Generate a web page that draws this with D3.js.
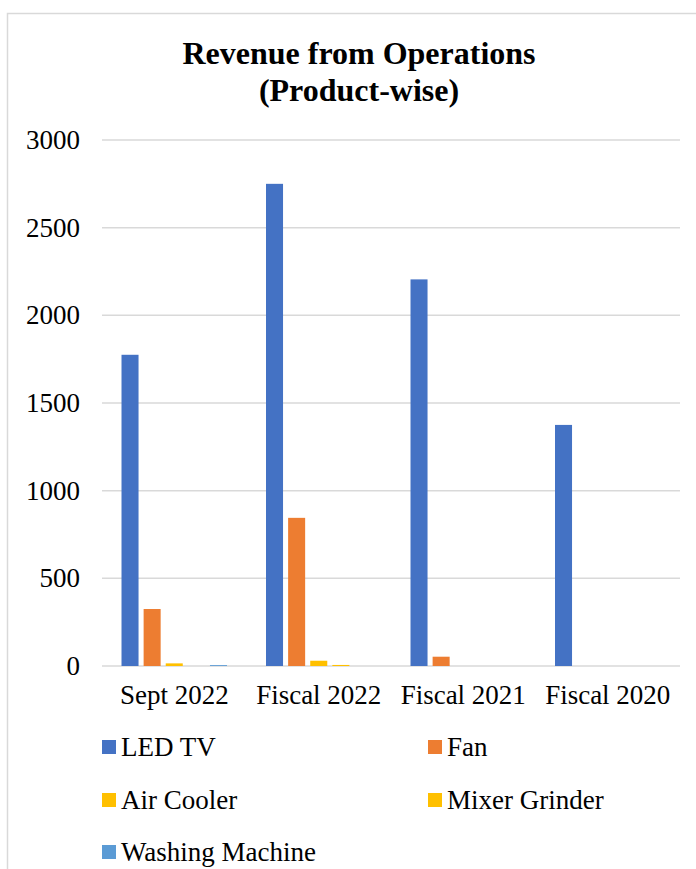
<!DOCTYPE html>
<html>
<head>
<meta charset="utf-8">
<script src="https://cdn.jsdelivr.net/npm/d3@7"></script>
<style>
  body { margin: 0; background: #fff; }
  text { font-family: "Liberation Serif", "Times New Roman", serif; fill: #000; }
</style>
</head>
<body>
<script>
const width = 696;
const height = 869;

const categories = ["Sept 2022", "Fiscal 2022", "Fiscal 2021", "Fiscal 2020"];
const seriesNames = ["LED TV", "Fan", "Air Cooler", "Mixer Grinder", "Washing Machine"];
const ledTv = [1775, 2750, 2205, 1375];
const fan = [325, 845, 53, 0];
const airCooler = [15, 30, 0, 0];
const mixerGrinder = [0, 6, 0, 0];
const washingMachine = [5, 0, 0, 0];
const yTicks = [0, 500, 1000, 1500, 2000, 2500, 3000];
const colors = ["#4472C4", "#ED7D31", "#FFC000", "#FFC000", "#5B9BD5"];

const seriesValues = [ledTv, fan, airCooler, mixerGrinder, washingMachine];
const serif = "'Liberation Serif', 'Times New Roman', serif";

const svg = d3.select("body")
  .append("svg")
  .attr("width", width)
  .attr("height", height);

svg.append("rect")
  .attr("width", width)
  .attr("height", height)
  .attr("fill", "#fff");

// chart border (runs off right/bottom)
svg.append("rect")
  .attr("x", 7.5)
  .attr("y", 13.5)
  .attr("width", 720)
  .attr("height", 900)
  .attr("fill", "none")
  .attr("stroke", "#d9d9d9")
  .attr("stroke-width", 1.5);

// title
const title = svg.append("text")
  .attr("text-anchor", "middle")
  .attr("font-family", serif)
  .attr("font-weight", "bold")
  .attr("font-size", 32);
title.append("tspan").attr("x", 359).attr("y", 64).text("Revenue from Operations");
title.append("tspan").attr("x", 359).attr("y", 101).text("(Product-wise)");

const margin = { left: 102, right: 680, top: 140, bottom: 666 };

const x0 = d3.scaleBand()
  .domain(categories)
  .range([margin.left, margin.right])
  .paddingInner(0.27)
  .paddingOuter(0.135);

const x1 = d3.scaleBand()
  .domain(seriesNames)
  .range([0, x0.bandwidth()])
  .paddingInner(0.23);

const y = d3.scaleLinear()
  .domain([0, 3000])
  .range([margin.bottom, margin.top]);

// gridlines
svg.append("g")
  .selectAll("line")
  .data(yTicks)
  .join("line")
  .attr("x1", margin.left)
  .attr("x2", margin.right)
  .attr("y1", (d) => y(d))
  .attr("y2", (d) => y(d))
  .attr("stroke", "#d9d9d9")
  .attr("stroke-width", 1.5);

// y axis labels
const yAxis = svg.append("g")
  .attr("transform", `translate(${margin.left - 22},0)`)
  .call(d3.axisLeft(y).tickValues(yTicks).tickFormat(d3.format("d")).tickSize(0).tickPadding(0))
  .attr("font-family", serif)
  .attr("font-size", 27);
yAxis.select(".domain").remove();

// bars
const groups = svg.append("g")
  .selectAll("g")
  .data(categories)
  .join("g")
  .attr("transform", (d) => `translate(${x0(d)},0)`);

groups.selectAll("rect")
  .data((c, i) => seriesNames.map((s, j) => ({ s, j, v: seriesValues[j][i] })))
  .join("rect")
  .attr("x", (d) => x1(d.s))
  .attr("width", x1.bandwidth())
  .attr("y", (d) => y(d.v))
  .attr("height", (d) => y(0) - y(d.v))
  .attr("fill", (d) => colors[d.j]);

// x axis labels
const xAxis = svg.append("g")
  .attr("transform", `translate(0,${margin.bottom + 14})`)
  .call(d3.axisBottom(x0).tickSize(0).tickPadding(0))
  .attr("font-family", serif)
  .attr("font-size", 27);
xAxis.select(".domain").remove();
xAxis.selectAll("text").attr("dy", "0.9em");

// legend
const legendPos = [
  [102, 747], [428, 747],
  [102, 800], [428, 800],
  [102, 852]
];

const legend = svg.append("g")
  .selectAll("g")
  .data(seriesNames)
  .join("g")
  .attr("transform", (d, i) => `translate(${legendPos[i][0]},${legendPos[i][1]})`);

legend.append("rect")
  .attr("x", 0)
  .attr("y", -7)
  .attr("width", 14)
  .attr("height", 14)
  .attr("fill", (d, i) => colors[i]);

legend.append("text")
  .attr("x", 19)
  .attr("y", 0)
  .attr("dy", "0.35em")
  .attr("font-family", serif)
  .attr("font-size", 27)
  .text((d) => d);
</script>
</body>
</html>
